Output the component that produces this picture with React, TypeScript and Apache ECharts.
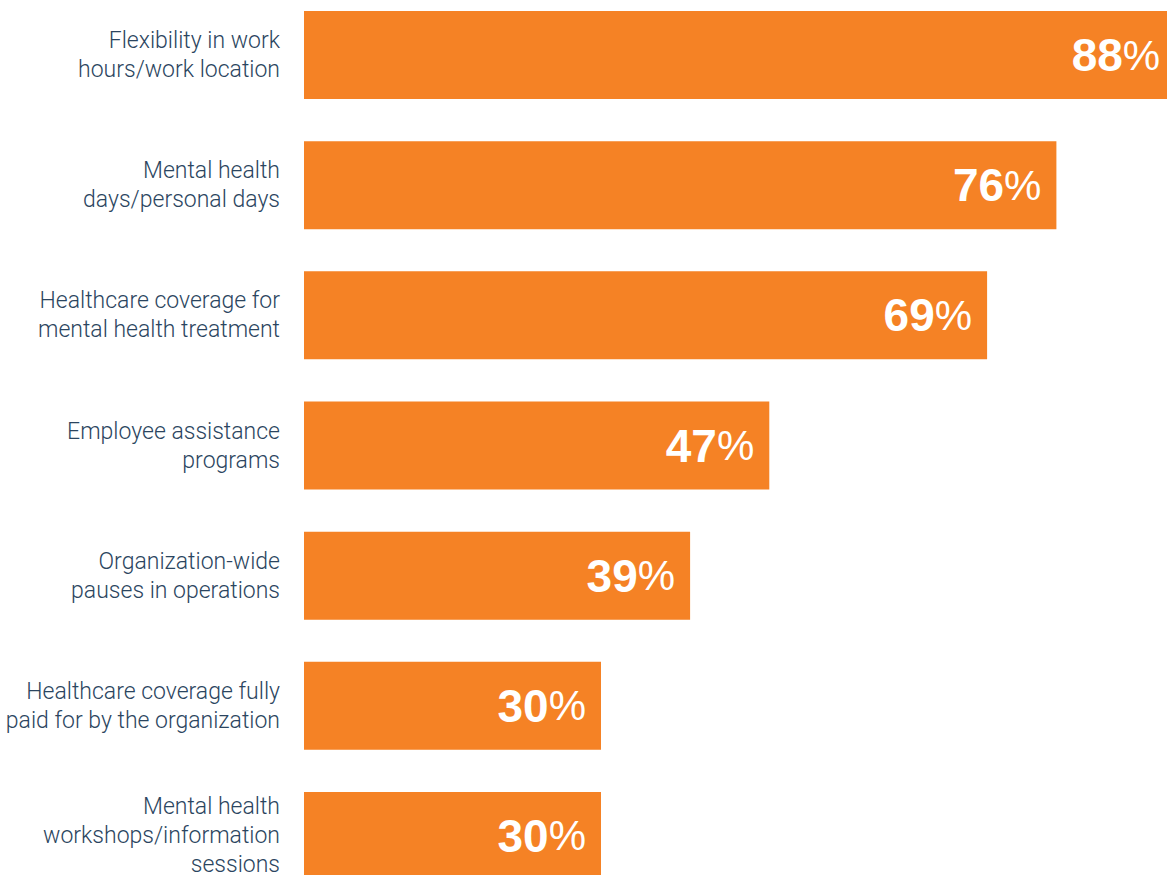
import React, { useEffect, useRef } from "react";
import * as echarts from "echarts";

const categories = [
  "Flexibility in work\nhours/work location",
  "Mental health\ndays/personal days",
  "Healthcare coverage for\nmental health treatment",
  "Employee assistance\nprograms",
  "Organization-wide\npauses in operations",
  "Healthcare coverage fully\npaid for by the organization",
  "Mental health\nworkshops/information\nsessions",
];
const values = [88, 76, 69, 47, 39, 30, 30];

export default function App() {
  const ref = useRef<HTMLDivElement>(null);
  useEffect(() => {
    if (!ref.current) return;
    const chart = echarts.init(ref.current, null, { renderer: "svg" });
    chart.setOption({
      animation: false,
      grid: {
        left: 304,
        top: -10,
        width: 990,
        height: 911,
        containLabel: false,
        outerBoundsMode: "none",
      },
      xAxis: {
        type: "value",
        min: 0,
        max: 100,
        show: false,
      },
      yAxis: {
        type: "category",
        inverse: true,
        data: categories,
        axisLine: { show: false },
        axisTick: { show: false },
        axisLabel: {
          margin: 24,
          color: "#2B4560",
          fontFamily: "Roboto",
          fontWeight: 300,
          fontSize: 23,
          lineHeight: 29,
          align: "right",
          padding: [0, 0, 4, 0],
        },
      },
      series: [
        {
          type: "bar",
          data: values,
          barWidth: 88,
          itemStyle: { color: "#F58225" },
          label: {
            show: true,
            position: "insideRight",
            distance: 15,
            formatter: (p: any) => `{b|${p.value}}{p|%}`,
            rich: {
              b: {
                fontFamily: "Liberation Sans",
                fontWeight: "bold",
                fontSize: 46,
                color: "#FFFFFF",
              },
              p: {
                fontFamily: "Liberation Sans",
                fontWeight: "normal",
                fontSize: 42,
                color: "#FFFFFF",
              },
            },
          },
        },
      ],
    });
    return () => chart.dispose();
  }, []);
  return (
    <div
      ref={ref}
      style={{ position: "absolute", left: 0, top: 0, width: 1167, height: 875, overflow: "hidden" }}
    />
  );
}
